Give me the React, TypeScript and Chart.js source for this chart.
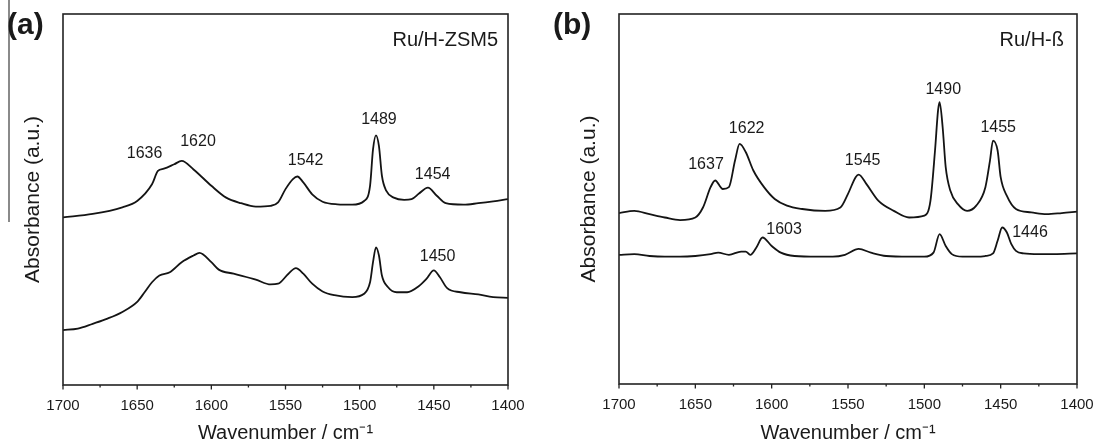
import React, { useEffect, useRef } from "react";
import { Chart, registerables } from "chart.js";

Chart.register(...registerables);

// ---------- data ----------
const xMajorTicks = [1700, 1650, 1600, 1550, 1500, 1450, 1400];
const xMinorTicks = [1675, 1625, 1575, 1525, 1475, 1425];

// Panel (a) Ru/H-ZSM5, upper spectrum
const zsmTopWave = [1700, 1680, 1660, 1650, 1640, 1636, 1632, 1625, 1620, 1612, 1600, 1590, 1580, 1570, 1560, 1555, 1550, 1545, 1542, 1538, 1532, 1525, 1515, 1505, 1497, 1493, 1491, 1489, 1487, 1485, 1482, 1477, 1470, 1465, 1460, 1454, 1448, 1442, 1430, 1420, 1410, 1400];
const zsmTopAbs = [45.2, 46.1, 47.9, 49.6, 54.1, 57.7, 58.3, 59.5, 60.4, 58.1, 53.7, 50.5, 49.0, 48.1, 48.3, 49.2, 52.8, 55.5, 56.2, 54.6, 51.4, 49.4, 48.7, 48.6, 49.6, 53.7, 63.5, 67.3, 64.4, 56.4, 52.3, 50.5, 49.9, 50.1, 51.6, 53.2, 51.0, 49.0, 48.6, 49.0, 49.5, 50.1];

// Panel (a) Ru/H-ZSM5, lower spectrum
const zsmLowWave = [1700, 1690, 1680, 1670, 1660, 1650, 1645, 1640, 1635, 1628, 1620, 1612, 1608, 1600, 1595, 1585, 1570, 1560, 1555, 1548, 1543, 1538, 1532, 1525, 1517, 1505, 1497, 1493, 1491, 1489, 1487, 1485, 1481, 1475, 1468, 1460, 1455, 1450, 1446, 1441, 1432, 1420, 1410, 1400];
const zsmLowAbs = [14.8, 15.2, 16.5, 17.9, 19.7, 22.4, 25.0, 27.7, 29.5, 30.4, 33.1, 34.9, 35.6, 33.1, 31.1, 30.0, 28.4, 27.1, 27.3, 30.0, 31.5, 30.0, 27.3, 25.2, 24.2, 23.7, 24.6, 27.7, 33.1, 37.1, 34.9, 29.5, 26.4, 25.0, 25.0, 26.7, 28.6, 30.9, 29.1, 26.1, 25.0, 24.4, 23.7, 23.5];

// Panel (b) Ru/H-ß, upper spectrum
const betaTopWave = [1700, 1690, 1680, 1670, 1660, 1650, 1645, 1640, 1637, 1632, 1628, 1624, 1621, 1617, 1612, 1605, 1598, 1590, 1580, 1565, 1555, 1550, 1545, 1543, 1538, 1530, 1520, 1510, 1500, 1496, 1493, 1491, 1490, 1488, 1486, 1483, 1478, 1472, 1466, 1460, 1457, 1455, 1452, 1450, 1446, 1440, 1430, 1420, 1410, 1400];
const betaTopAbs = [46.2, 46.8, 45.9, 45.0, 44.3, 45.0, 47.7, 53.2, 55.0, 52.7, 53.2, 60.4, 64.9, 62.7, 57.7, 53.2, 50.0, 48.2, 47.3, 46.8, 47.7, 51.4, 55.9, 56.6, 54.1, 49.5, 46.8, 45.0, 45.5, 49.5, 63.1, 74.0, 76.2, 69.4, 58.6, 52.3, 48.6, 46.8, 48.2, 53.2, 60.4, 65.8, 63.1, 55.9, 50.9, 47.3, 46.4, 45.9, 46.2, 46.6];

// Panel (b) Ru/H-ß, lower spectrum
const betaLowWave = [1700, 1690, 1680, 1670, 1660, 1650, 1640, 1635, 1628, 1620, 1617, 1614, 1610, 1606, 1600, 1594, 1585, 1570, 1560, 1552, 1543, 1535, 1525, 1510, 1500, 1494, 1490, 1486, 1482, 1475, 1465, 1460, 1455, 1452, 1449, 1446, 1443, 1440, 1435, 1425, 1415, 1400];
const betaLowAbs = [34.9, 35.1, 34.6, 34.4, 34.4, 34.6, 35.1, 35.5, 34.9, 35.8, 35.8, 34.9, 36.9, 39.6, 37.3, 35.5, 34.6, 34.4, 34.4, 34.9, 36.5, 35.5, 34.6, 34.4, 34.4, 35.5, 40.5, 37.3, 35.1, 34.4, 34.4, 34.6, 35.3, 38.7, 42.3, 41.0, 37.8, 36.0, 35.3, 35.1, 35.1, 35.3];

// Peak annotations: text, anchor wavenumber, anchor absorbance
const zsmPeakText = ["1636", "1620", "1542", "1489", "1454", "1450"];
const zsmPeakWave = [1645, 1609, 1536.5, 1487, 1450.8, 1447.5];
const zsmPeakAbs = [62.4, 65.5, 60.6, 71.6, 56.6, 34.7];

const betaPeakText = ["1637", "1622", "1545", "1490", "1455", "1603", "1446"];
const betaPeakWave = [1643, 1616.4, 1540.4, 1487.6, 1451.6, 1591.9, 1430.8];
const betaPeakAbs = [59.2, 69.1, 60.5, 79.6, 69.4, 41.6, 40.9];

const FONT = "'Liberation Sans', Arial, Helvetica, sans-serif";
const INK = "#1a1a1a";

const decorPlugin = {
  id: "decor",
  afterDraw(chart: any, _args: any, opts: any) {
    const { ctx, chartArea: a, scales } = chart;
    const xs = scales.x;
    const ys = scales.y;
    ctx.save();
    // frame
    ctx.strokeStyle = "#222";
    ctx.lineWidth = 1.6;
    ctx.strokeRect(a.left, a.top, a.right - a.left, a.bottom - a.top);
    // tick marks (outward)
    ctx.lineWidth = 1.3;
    ctx.beginPath();
    for (const v of xMajorTicks) {
      const px = xs.getPixelForValue(v);
      ctx.moveTo(px, a.bottom);
      ctx.lineTo(px, a.bottom + 4.5);
    }
    for (const v of xMinorTicks) {
      const px = xs.getPixelForValue(v);
      ctx.moveTo(px, a.bottom);
      ctx.lineTo(px, a.bottom + 2.5);
    }
    ctx.stroke();
    // peak labels
    ctx.fillStyle = INK;
    ctx.font = `16px ${FONT}`;
    ctx.textAlign = "center";
    ctx.textBaseline = "middle";
    opts.peakText.forEach((t: string, i: number) => {
      ctx.fillText(t, xs.getPixelForValue(opts.peakWave[i]), ys.getPixelForValue(opts.peakAbs[i]));
    });
    // sample name
    ctx.font = `20px ${FONT}`;
    ctx.textAlign = "right";
    ctx.fillText(opts.sample, a.right - opts.sampleInset, a.top + 26);
    // panel letter
    ctx.font = `bold 30px ${FONT}`;
    ctx.textAlign = "left";
    ctx.fillText(opts.letter, opts.letterX, 26);
    ctx.restore();
  },
};

function buildConfig(p: any) {
  return {
    type: "line",
    data: {
      datasets: p.series.map((s: any) => ({
        data: s.w.map((w: number, i: number) => ({ x: w, y: s.v[i] })),
        borderColor: "#141414",
        borderWidth: 1.8,
        pointRadius: 0,
        cubicInterpolationMode: "monotone",
        fill: false,
      })),
    },
    options: {
      responsive: false,
      animation: false,
      events: [],
      layout: { padding: { left: 0, right: p.padRight, top: 14, bottom: 0 } },
      plugins: {
        legend: { display: false },
        tooltip: { enabled: false },
        decor: {
          peakText: p.peakText,
          peakWave: p.peakWave,
          peakAbs: p.peakAbs,
          sample: p.sample,
          sampleInset: p.sampleInset,
          letter: p.letter,
          letterX: p.letterX,
        },
      },
      scales: {
        x: {
          type: "linear",
          min: 1400,
          max: 1700,
          reverse: true,
          grid: { display: false, drawTicks: true, tickLength: 12 },
          border: { display: false },
          ticks: {
            stepSize: 50,
            padding: 0,
            color: INK,
            font: { family: FONT, size: 15 },
            maxRotation: 0,
            autoSkip: false,
            callback: (v: any) => String(v),
          },
          title: {
            display: true,
            text: "Wavenumber / cm⁻¹",
            color: INK,
            font: { family: FONT, size: 20 },
            padding: { top: 0, bottom: 0 },
          },
          afterFit: (s: any) => {
            s.height = p.xAxisHeight;
          },
        },
        y: {
          min: 0,
          max: 100,
          ticks: { display: false },
          grid: { display: false, drawTicks: false },
          border: { display: false },
          title: {
            display: true,
            text: "Absorbance (a.u.)",
            color: INK,
            font: { family: FONT, size: 21 },
            padding: { top: p.yTitlePad, bottom: 0 },
          },
          afterFit: (s: any) => {
            s.width = p.yAxisWidth;
          },
        },
      },
    },
    plugins: [decorPlugin],
  };
}

export default function App() {
  const leftRef = useRef<HTMLCanvasElement>(null);
  const rightRef = useRef<HTMLCanvasElement>(null);

  useEffect(() => {
    const left = new Chart(
      leftRef.current as HTMLCanvasElement,
      buildConfig({
        series: [
          { w: zsmTopWave, v: zsmTopAbs },
          { w: zsmLowWave, v: zsmLowAbs },
        ],
        padRight: 39,
        xAxisHeight: 60,
        yAxisWidth: 63,
        yTitlePad: 21,
        peakText: zsmPeakText,
        peakWave: zsmPeakWave,
        peakAbs: zsmPeakAbs,
        sample: "Ru/H-ZSM5",
        sampleInset: 10,
        letter: "(a)",
        letterX: 7,
      }) as any
    );
    const right = new Chart(
      rightRef.current as HTMLCanvasElement,
      buildConfig({
        series: [
          { w: betaTopWave, v: betaTopAbs },
          { w: betaLowWave, v: betaLowAbs },
        ],
        padRight: 17,
        xAxisHeight: 61,
        yAxisWidth: 72,
        yTitlePad: 30,
        peakText: betaPeakText,
        peakWave: betaPeakWave,
        peakAbs: betaPeakAbs,
        sample: "Ru/H-ß",
        sampleInset: 13,
        letter: "(b)",
        letterX: 6,
      }) as any
    );
    return () => {
      left.destroy();
      right.destroy();
    };
  }, []);

  return (
    <div style={{ position: "absolute", left: 0, top: 0, width: 1094, height: 445, background: "#fff" }}>
      <div style={{ position: "absolute", left: 8, top: 0, width: 1.5, height: 222, background: "#8a8a8a" }} />
      <canvas ref={leftRef} width={547} height={445} style={{ position: "absolute", left: 0, top: 0, width: 547, height: 445 }} />
      <canvas ref={rightRef} width={547} height={445} style={{ position: "absolute", left: 547, top: 0, width: 547, height: 445 }} />
    </div>
  );
}
